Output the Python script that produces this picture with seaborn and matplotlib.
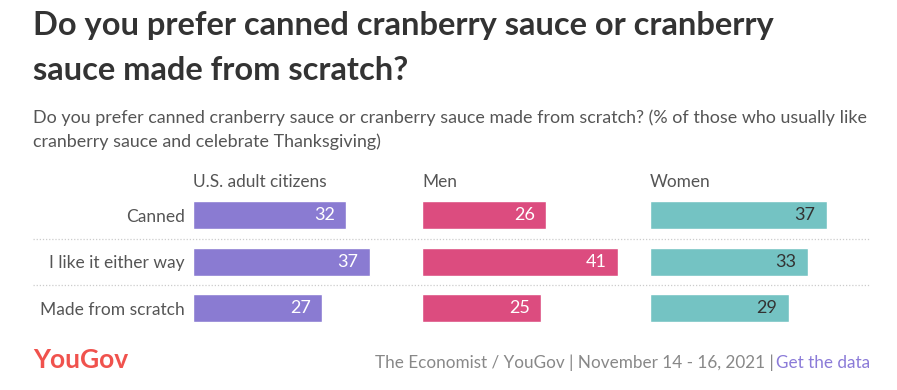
import pandas as pd
import matplotlib.pyplot as plt
import matplotlib.transforms as mtransforms
from matplotlib.lines import Line2D
import seaborn as sns

# data
categories = ["Canned", "I like it either way", "Made from scratch"]
groups = ["U.S. adult citizens", "Men", "Women"]
adults = [32, 37, 27]
men = [26, 41, 25]
women = [37, 33, 29]

colors = ["#8a7bd2", "#dc4c7f", "#74c3c3"]
label_colors = ["white", "white", "#333333"]

sns.set_theme(style="white")
plt.rcParams["font.family"] = ["Lato", "DejaVu Sans"]

W, H = 897, 390
fig = plt.figure(figsize=(W / 100, H / 100), dpi=100)

def px(x0, y_top, w, h):
    return [x0 / W, 1 - (y_top + h) / H, w / W, h / H]

lefts = [193, 422, 650]
axes = []
for i, (g, vals) in enumerate(zip(groups, [adults, men, women])):
    ax = fig.add_axes(px(lefts[i], 192, 215, 139.5))
    df = pd.DataFrame({"cat": categories, "val": vals})
    sns.barplot(data=df, y="cat", x="val", color=colors[i], width=0.6,
                saturation=1, ax=ax, orient="h")
    ax.set_xlim(0, 45)
    ax.set_ylim(2.5, -0.5)
    ax.set_xlabel("")
    ax.set_ylabel("")
    ax.set_xticks([])
    for s in ax.spines.values():
        s.set_visible(False)
    if i == 0:
        ax.tick_params(axis="y", length=0, pad=6, labelsize=12.5, labelcolor="#555555")
    else:
        ax.set_yticks([])
    for container in ax.containers:
        labels = ax.bar_label(container, padding=-8, fontsize=13, color=label_colors[i],
                              label_type="edge", fmt="%d")
        for t in labels:
            t.set_ha("right")
    ax.text(0, -0.72, g, fontsize=12.4, color="#555555", va="center", ha="left")
    ax.patch.set_alpha(0)
    axes.append(ax)

# dotted separators between rows
tr = mtransforms.blended_transform_factory(fig.transFigure, axes[0].transData)
for y in [0.5, 1.5]:
    fig.add_artist(Line2D([33 / W, 870 / W], [y, y], transform=tr, color="#cccccc",
                          linestyle=(0, (1, 1.5)), linewidth=0.9))

# titles
fig.text(33 / W, 1 - 26 / H, "Do you prefer canned cranberry sauce or cranberry",
         fontsize=23.5, fontweight="bold", color="#333333", va="center")
fig.text(33 / W, 1 - 71 / H, "sauce made from scratch?",
         fontsize=23.5, fontweight="bold", color="#333333", va="center")
fig.text(33 / W, 1 - 118 / H,
         "Do you prefer canned cranberry sauce or cranberry sauce made from scratch? (% of those who usually like",
         fontsize=12.9, color="#555555", va="center")
fig.text(33 / W, 1 - 142 / H, "cranberry sauce and celebrate Thanksgiving)",
         fontsize=12.9, color="#555555", va="center")

# footer
fig.text(33 / W, 1 - 360 / H, "YouGov", fontsize=19, fontweight="bold",
         color="#f0524d", va="center")
t2 = fig.text(870 / W, 1 - 363 / H, "Get the data", fontsize=12.3, color="#8b7bd8",
              va="center", ha="right")
fig.canvas.draw()
bb = t2.get_window_extent()
fig.text((bb.x0 - 2) / W, 1 - 363 / H, "The Economist / YouGov | November 14 - 16, 2021 |",
         fontsize=12.3, color="#888888", va="center", ha="right")

plt.savefig("out.png", dpi=100)
